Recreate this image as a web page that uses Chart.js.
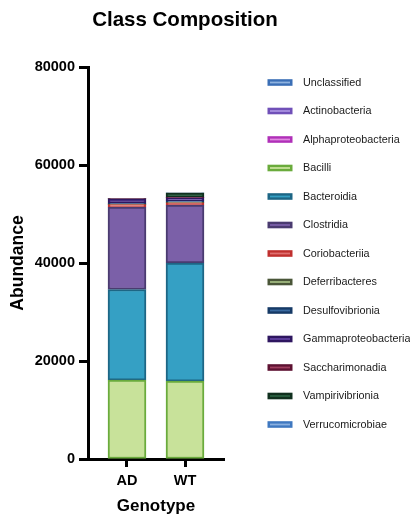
<!DOCTYPE html>
<html>
<head>
<meta charset="utf-8">
<script src="https://cdn.jsdelivr.net/npm/chart.js@4"></script>
<style>
html,body{margin:0;padding:0;background:#fff;}
#wrap{width:410px;height:514px;position:relative;}
</style>
</head>
<body>
<div id="wrap"><canvas id="c" width="410" height="514"></canvas></div>
<script>
const categories = ['AD', 'WT'];
const classes = ['Unclassified','Actinobacteria','Alphaproteobacteria','Bacilli','Bacteroidia','Clostridia','Coriobacteriia','Deferribacteres','Desulfovibrionia','Gammaproteobacteria','Saccharimonadia','Vampirivibrionia','Verrucomicrobiae'];
const adValues = [0, 0, 0, 16100, 18500, 16800, 500, 100, 200, 900, 50, 20, 0];
const wtValues = [0, 0, 0, 15900, 24100, 11800, 500, 100, 300, 600, 100, 900, 20];
const yTicks = [0, 20000, 40000, 60000, 80000];

const fillColors = ['#8fb3e0','#a890e0','#e08ae0','#c8e29a','#35a0c4','#7b60a8','#e07070','#a0b880','#3a6aa0','#6040a0','#a04060','#2a6040','#8ab0e0'];
const edgeColors = ['#3b6fb6','#7050b8','#b030b8','#6aab3c','#1d6685','#4a3b70','#c0302e','#4a5638','#163a66','#2e1660','#5e1232','#10301e','#3f78c0'];

const datasets = classes.map((name, i) => ({
  label: name,
  data: [ {x: 0, y: adValues[i]}, {x: 1, y: wtValues[i]} ],
  backgroundColor: fillColors[i],
  borderColor: edgeColors[i],
  borderWidth: 2,
  borderSkipped: false,
  barThickness: 38
}));

const FONT = '"Liberation Sans", Arial, Helvetica, sans-serif';

const sideLegend = {
  id: 'sideLegend',
  afterDraw(chart) {
    const ctx = chart.ctx;
    ctx.save();
    ctx.fillStyle = '#000';
    ctx.font = 'bold 20.5px ' + FONT;
    ctx.textAlign = 'center';
    ctx.textBaseline = 'middle';
    ctx.fillText('Class Composition', 185, 20.5);
    ctx.textAlign = 'left';
    ctx.font = '10.8px ' + FONT;
    chart.data.datasets.forEach((ds, i) => {
      const y = 82.5 + i * 28.5;
      ctx.fillStyle = ds.borderColor;
      ctx.fillRect(267.5, y - 3.3, 25, 6.6);
      ctx.fillStyle = ds.backgroundColor;
      ctx.fillRect(270, y - 0.9, 20, 1.8);
      ctx.fillStyle = '#1a1a1a';
      ctx.fillText(ds.label, 303, y + 0.5);
    });
    ctx.restore();
  }
};

new Chart(document.getElementById('c'), {
  type: 'bar',
  data: { datasets },
  plugins: [sideLegend],
  options: {
    responsive: false,
    animation: false,
    layout: { padding: { top: 67, right: 186, bottom: 0, left: 0 } },
    plugins: { legend: { display: false }, tooltip: { enabled: false }, title: { display: false } },
    scales: {
      x: {
        type: 'linear',
        stacked: true,
        offset: false,
        min: -0.6724,
        max: 1.6724,
        afterBuildTicks(scale) { scale.ticks = categories.map((c, i) => ({ value: i })); },
        afterFit(scale) { scale.height = 55; },
        ticks: {
          callback: (v) => categories[v],
          color: '#000',
          font: { family: FONT, size: 14.5, weight: 'bold' },
          padding: 5,
          maxRotation: 0
        },
        grid: { offset: false, drawOnChartArea: false, drawTicks: true, tickLength: 8, tickWidth: 3, tickColor: '#000' },
        border: { display: true, color: '#000', width: 3 },
        title: { display: true, text: 'Genotype', color: '#000', font: { family: FONT, size: 17, weight: 'bold' }, padding: { top: 4, bottom: -3 } }
      },
      y: {
        stacked: true,
        min: 0,
        max: 80000,
        afterBuildTicks(scale) { scale.ticks = yTicks.map(v => ({ value: v })); },
        afterFit(scale) { scale.width = 88; },
        ticks: {
          color: '#000',
          font: { family: FONT, size: 14.5, weight: 'bold' },
          padding: 4,
          callback: (v) => String(v)
        },
        grid: { drawOnChartArea: false, drawTicks: true, tickLength: 9, tickWidth: 3, tickColor: '#000' },
        border: { display: true, color: '#000', width: 3 },
        title: { display: true, text: 'Abundance', color: '#000', font: { family: FONT, size: 17.5, weight: 'bold' }, padding: { top: 8, bottom: 0 } }
      }
    }
  }
});
</script>
</body>
</html>
